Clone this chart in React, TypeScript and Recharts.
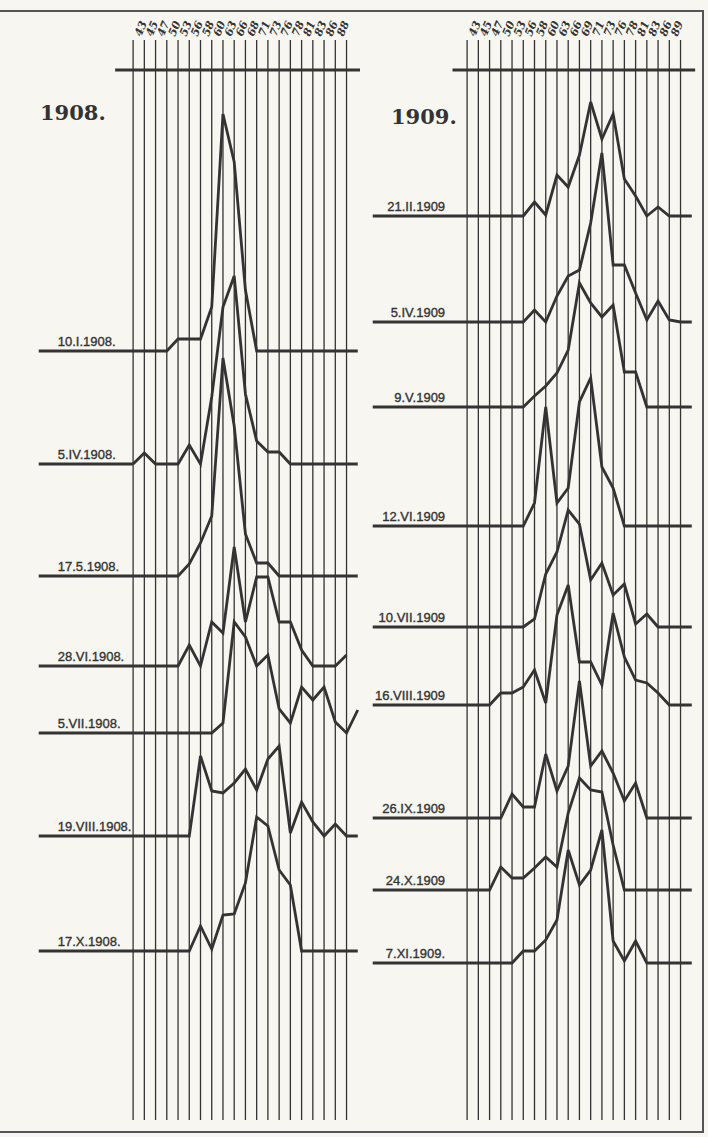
import React from "react";
import { LineChart, Line, XAxis, YAxis, ReferenceLine } from "recharts";

// tick labels sit on lines 1..19 (line 0 carries no number)
const TICKS_1908 = ["43", "45", "47", "50", "53", "56", "58", "60", "63", "66", "68", "71", "73", "76", "78", "81", "83", "86", "88"];
const TICKS_1909 = ["43", "45", "47", "50", "53", "56", "58", "60", "63", "66", "69", "71", "73", "76", "78", "81", "83", "86", "89"];

const DATES_1908 = ["10.I.1908.", "5.IV.1908.", "17.5.1908.", "28.VI.1908.", "5.VII.1908.", "19.VIII.1908.", "17.X.1908."];
const DATES_1909 = ["21.II.1909", "5.IV.1909", "9.V.1909", "12.VI.1909", "10.VII.1909", "16.VIII.1909", "26.IX.1909", "24.X.1909", "7.XI.1909."];

// base level of every curve (same units as the values)
const LEVELS_1908 = [769, 656, 544, 454, 387, 284, 169];
const LEVELS_1909 = [904, 798, 713, 594, 493, 415, 302, 230, 157];

// heights above the base line, lines 0..19 plus the run-out column 20
const JAN_1908 = [0, 0, 0, 0, 12, 12, 12, 44, 237, 189, 61, 0, 0, 0, 0, 0, 0, 0, 0, 0, 0];
const APR_1908 = [0, 11, 0, 0, 0, 19, 0, 67, 157, 188, 70, 23, 12, 12, 0, 0, 0, 0, 0, 0, 0];
const MAY_1908 = [0, 0, 0, 0, 0, 12, 33, 60, 218, 150, 42, 13, 13, 0, 0, 0, 0, 0, 0, 0, 0];
const JUN_1908 = [0, 0, 0, 0, 0, 21, 0, 44, 33, 119, 44, 89, 89, 44, 44, 16, 0, 0, 0, 11, null];
const JUL_1908 = [0, 0, 0, 0, 0, 0, 0, 0, 10, 111, 96, 67, 78, 24, 10, 46, 33, 46, 11, 0, 23];
const AUG_1908 = [0, 0, 0, 0, 0, 0, 80, 45, 43, 53, 67, 46, 77, 90, 3, 34, 14, 0, 12, 0, 0];
const OCT_1908 = [0, 0, 0, 0, 0, 0, 25, 2, 36, 37, 68, 134, 125, 81, 66, 0, 0, 0, 0, 0, 0];

const FEB_1909 = [0, 0, 0, 0, 0, 0, 14, 1, 41, 29, 61, 114, 77, 102, 37, 20, 0, 9, 0, 0, 0];
const APR_1909 = [0, 0, 0, 0, 0, 0, 12, 0, 26, 46, 52, 99, 169, 57, 57, 29, 2, 21, 2, 0, 0];
const MAY_1909 = [0, 0, 0, 0, 0, 0, 11, 21, 34, 57, 124, 104, 90, 102, 35, 35, 0, 0, 0, 0, 0];
const JUN_1909 = [0, 0, 0, 0, 0, 0, 23, 119, 23, 38, 124, 148, 59, 38, 0, 0, 0, 0, 0, 0, 0];
const JUL_1909 = [0, 0, 0, 0, 0, 0, 8, 53, 75, 117, 103, 47, 64, 32, 43, 3, 13, 0, 0, 0, 0];
const AUG_1909 = [0, 0, 0, 12, 12, 18, 35, 2, 90, 120, 43, 43, 20, 92, 48, 25, 22, 12, 0, 0, 0];
const SEP_1909 = [0, 0, 0, 0, 24, 11, 11, 64, 27, 52, 137, 52, 67, 45, 17, 35, 0, 0, 0, 0, 0];
const OCT_1909 = [0, 0, 0, 23, 12, 12, 22, 33, 23, 77, 112, 100, 98, 45, 0, 0, 0, 0, 0, 0, 0];
const NOV_1909 = [0, 0, 0, 0, 0, 12, 12, 23, 43, 113, 78, 93, 133, 22, 2, 22, 0, 0, 0, 0, 0];

const CURVES_1908 = [JAN_1908, APR_1908, MAY_1908, JUN_1908, JUL_1908, AUG_1908, OCT_1908];
const CURVES_1909 = [FEB_1909, APR_1909, MAY_1909, JUN_1909, JUL_1909, AUG_1909, SEP_1909, OCT_1909, NOV_1909];

const INK = "#333333";
const PAPER = "#f7f6f0";
const LINE_COUNT = 20;
const BASE_START = -8.4;
const AXIS_LEVEL = 1050;

function buildRows(levels: number[], curves: (number | null)[][]) {
  return Array.from({ length: 21 }, (_, i) => {
    const row: Record<string, number | null> = { i };
    curves.forEach((c, k) => {
      const v = c[i];
      row["s" + k] = v == null ? null : levels[k] + v;
    });
    return row;
  });
}

function Panel({ left, ticks, dates, levels, curves, side, axisFrom, axisTo }: any) {
  const rows = buildRows(levels, curves);
  const lines = Array.from({ length: LINE_COUNT }, (_, i) => i);

  return (
    <div style={{ position: "absolute", left, top: 0 }}>
      <LineChart width={369} height={1137} data={rows} margin={{ top: 0, right: 0, bottom: 17, left: 32 }}>
        <XAxis
          type="number"
          dataKey="i"
          orientation="top"
          domain={[-9, 21]}
          allowDataOverflow
          ticks={ticks.map((_: string, k: number) => k + 1)}
          interval={0}
          height={40}
          axisLine={false}
          tickLine={false}
          tick={(p: any) => (
            <text
              key={p.payload.value}
              transform={`translate(${p.x - 3},37) rotate(-68)`}
              fontFamily="DejaVu Serif"
              fontStyle="italic"
              fontWeight="bold"
              fontSize={11}
              fill={INK}
            >
              {ticks[p.payload.value - 1]}
            </text>
          )}
        />
        <YAxis hide type="number" domain={[0, 1080]} allowDataOverflow />
        {lines.map((i) => (
          <ReferenceLine key={"v" + i} x={i} stroke={INK} strokeWidth={1.3} />
        ))}
        <ReferenceLine
          segment={[{ x: axisFrom, y: AXIS_LEVEL }, { x: axisTo, y: AXIS_LEVEL }]}
          stroke={INK}
          strokeWidth={2.8}
        />
        {levels.map((lv: number, k: number) => (
          <ReferenceLine
            key={"b" + k}
            segment={[{ x: BASE_START, y: lv }, { x: 0, y: lv }]}
            stroke={INK}
            strokeWidth={2.8}
            label={(p: any) => {
              const vb = p.viewBox;
              const isLeft = side === "left";
              return (
                <text
                  x={isLeft ? vb.x + 19 : vb.x + vb.width - 22}
                  y={vb.y - 5}
                  textAnchor={isLeft ? "start" : "end"}
                  fontFamily="Liberation Sans"
                  fontSize={13}
                  fill={INK}
                  stroke={INK}
                  strokeWidth={0.35}
                >
                  {dates[k]}
                </text>
              );
            }}
          />
        ))}
        {curves.map((_: any, k: number) => (
          <Line
            key={"s" + k}
            dataKey={"s" + k}
            type="linear"
            stroke={INK}
            strokeWidth={2.8}
            dot={false}
            activeDot={false}
            isAnimationActive={false}
            strokeLinejoin="miter"
          />
        ))}
      </LineChart>
    </div>
  );
}

export default function App() {
  const title = { position: "absolute" as const, fontFamily: "DejaVu Serif", fontWeight: "bold" as const, fontSize: 21, color: INK };
  return (
    <div style={{ position: "absolute", left: 0, top: 0, width: 708, height: 1137, background: PAPER, overflow: "hidden" }}>
      <div style={{ position: "absolute", left: 0, top: 10, width: 702, height: 1119, borderTop: "2px solid #555", borderRight: "2px solid #555", borderBottom: "2px solid #555" }} />
      <Panel left={0} ticks={TICKS_1908} dates={DATES_1908} levels={LEVELS_1908} curves={CURVES_1908} side="left" axisFrom={-1.6} axisTo={20.2} />
      <Panel left={334} ticks={TICKS_1909} dates={DATES_1909} levels={LEVELS_1909} curves={CURVES_1909} side="right" axisFrom={-1.3} axisTo={20.3} />
      <div style={{ ...title, left: 40, top: 100 }}>1908.</div>
      <div style={{ ...title, left: 391, top: 104 }}>1909.</div>
    </div>
  );
}
